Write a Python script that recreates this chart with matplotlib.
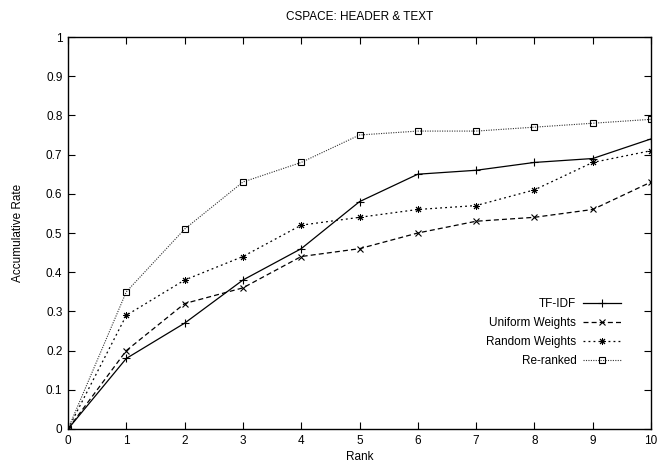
import matplotlib
matplotlib.use('Agg')
import matplotlib.pyplot as plt

plt.rcParams['font.family'] = ['Liberation Sans', 'DejaVu Sans']
plt.rcParams['font.size'] = 8.5

# Data
rank = [0, 1, 2, 3, 4, 5, 6, 7, 8, 9, 10]
tfidf = [0, 0.18, 0.27, 0.38, 0.46, 0.58, 0.65, 0.66, 0.68, 0.69, 0.74]
uniform = [0, 0.20, 0.32, 0.36, 0.44, 0.46, 0.50, 0.53, 0.54, 0.56, 0.63]
random_w = [0, 0.29, 0.38, 0.44, 0.52, 0.54, 0.56, 0.57, 0.61, 0.68, 0.71]
reranked = [0, 0.35, 0.51, 0.63, 0.68, 0.75, 0.76, 0.76, 0.77, 0.78, 0.79]

xticks = list(range(0, 11))
yticks = [0, 0.1, 0.2, 0.3, 0.4, 0.5, 0.6, 0.7, 0.8, 0.9, 1]
ytick_labels = ['0', '0.1', '0.2', '0.3', '0.4', '0.5', '0.6', '0.7', '0.8', '0.9', '1']

fig = plt.figure(figsize=(6.61, 4.66), dpi=100)
ax = fig.add_axes([0.1029, 0.0794, 0.882, 0.8412])

lw = 0.9
ax.plot(rank, tfidf, color='black', lw=lw, ls='-', marker='+', ms=6,
        mew=0.8, label='TF-IDF')
ax.plot(rank, uniform, color='black', lw=lw, ls=(0, (4, 2.5)), marker='x', ms=5,
        mew=0.8, label='Uniform Weights')
ax.plot(rank, random_w, color='black', lw=lw, ls=(0, (1.5, 2.5)), marker=(8, 2, 0),
        ms=5, mew=0.7, label='Random Weights')
ax.plot(rank, reranked, color='#333333', lw=0.8, ls=(0, (1, 1.2)), marker='s', ms=5,
        mfc='none', mec='black', mew=0.8, label='Re-ranked')

ax.set_xlim(0, 10)
ax.set_ylim(0, 1)
ax.set_xticks(xticks)
ax.set_yticks(yticks)
ax.set_yticklabels(ytick_labels)
ax.tick_params(direction='in', top=True, right=True, length=5, width=0.8, pad=4)
for s in ax.spines.values():
    s.set_linewidth(1.0)

ax.set_xlabel('Rank', labelpad=3)
ax.set_ylabel('Accumulative Rate', labelpad=16)
ax.set_title('CSPACE: HEADER & TEXT', fontsize=8.5, pad=12)

ax.legend(loc='lower right', bbox_to_anchor=(0.967, 0.131), frameon=False,
          markerfirst=False, handlelength=3.2, handletextpad=0.6,
          labelspacing=0.6, fontsize=8.5)

fig.savefig('out.png', dpi=100)
